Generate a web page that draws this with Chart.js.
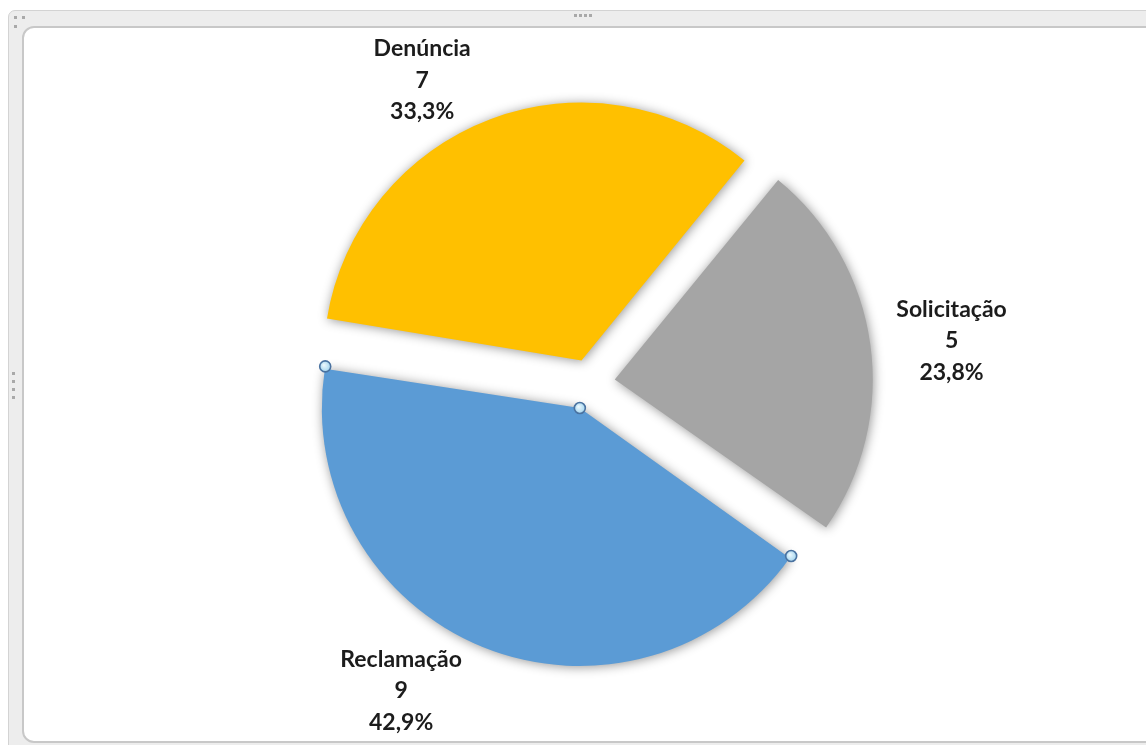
<!DOCTYPE html>
<html><head><meta charset="utf-8">
<script src="https://cdn.jsdelivr.net/npm/chart.js@4"></script>
<style>
html,body{margin:0;padding:0;background:#fff;width:1146px;height:745px;overflow:hidden;position:relative;}
#outer{position:absolute;left:8px;top:10px;width:1160px;height:760px;background:#ededed;border:1px solid #d3d3d3;border-radius:7px;box-sizing:border-box;}
#inner{position:absolute;left:22px;top:26px;width:1150px;height:717px;background:#fff;border:2px solid #c8c8c8;border-radius:12px;box-sizing:border-box;}
.dot{position:absolute;width:3px;height:3px;background:#a9a9a9;}
#c{position:absolute;left:0;top:0;}
</style></head>
<body>
<div id="outer"></div>
<div id="inner"></div>
<div class="dot" style="left:14px;top:16px"></div>
<div class="dot" style="left:22px;top:16px"></div>
<div class="dot" style="left:14px;top:25px"></div>
<div class="dot" style="left:574px;top:14px"></div>
<div class="dot" style="left:579px;top:14px"></div>
<div class="dot" style="left:584px;top:14px"></div>
<div class="dot" style="left:589px;top:14px"></div>
<div class="dot" style="left:12px;top:372px"></div>
<div class="dot" style="left:12px;top:380px"></div>
<div class="dot" style="left:12px;top:388px"></div>
<div class="dot" style="left:12px;top:396px"></div>
<canvas id="c" width="1146" height="745"></canvas>
<script>
// ---- data ----
const categories = ['Reclamação', 'Denúncia', 'Solicitação'];
const values = [9, 7, 5];
const colors = ['#5B9BD5', '#FFC000', '#A5A5A5'];

// ---- presentation ----
const explodePx = [27, 24, 25];          // slice explosion distance
const labelAngleShift = [9.4, -8.3, 1.2]; // degrees relative to slice mid-angle
const labelDist = [361, 346, 364];        // px from pie centre
const pieRadius = 258;

const total = values.reduce((a, b) => a + b, 0);
const pctText = v => (v / total * 100).toFixed(1).replace('.', ',') + '%';

function arcFix(arc) {
  const circ = arc.endAngle - arc.startAngle;
  return 1 - Math.sin(Math.min(Math.PI, circ));
}

const shadowAndRadius = {
  id: 'shadowAndRadius',
  beforeDatasetsDraw(chart) {
    const meta = chart.getDatasetMeta(0);
    meta.data.forEach(arc => {
      const off = (arc.options.offset || 0) / 4;
      arc.outerRadius = pieRadius - off * arcFix(arc);
    });
    const ctx = chart.ctx;
    ctx.save();
    ctx.shadowColor = 'rgba(0,0,0,0.42)';
    ctx.shadowBlur = 11;
    ctx.shadowOffsetX = 1;
    ctx.shadowOffsetY = 1;
  },
  afterDatasetsDraw(chart) {
    chart.ctx.restore();
  }
};

const labelsAndHandles = {
  id: 'labelsAndHandles',
  afterDraw(chart) {
    const ctx = chart.ctx;
    const meta = chart.getDatasetMeta(0);
    ctx.save();
    ctx.font = 'bold 23px Lato, "Open Sans", sans-serif';
    ctx.fillStyle = '#1c1c1c';
    ctx.textAlign = 'center';
    ctx.textBaseline = 'middle';
    meta.data.forEach((arc, i) => {
      const mid = (arc.startAngle + arc.endAngle) / 2 + labelAngleShift[i] * Math.PI / 180;
      const x = arc.x + Math.cos(mid) * labelDist[i];
      const y = arc.y + Math.sin(mid) * labelDist[i];
      const lines = [categories[i], String(values[i]), pctText(values[i])];
      lines.forEach((t, k) => ctx.fillText(t, x, y + (k - 1) * 31.5));
    });
    // selection handles on first slice
    const arc = meta.data[0];
    const off = (arc.options.offset || 0) / 4;
    const mid = (arc.startAngle + arc.endAngle) / 2;
    const ax = arc.x + Math.cos(mid) * off;
    const ay = arc.y + Math.sin(mid) * off;
    const r = arc.outerRadius + off * arcFix(arc);
    const pts = [
      [ax + Math.cos(arc.startAngle) * r, ay + Math.sin(arc.startAngle) * r],
      [ax, ay],
      [ax + Math.cos(arc.endAngle) * r, ay + Math.sin(arc.endAngle) * r]
    ];
    pts.forEach(([px, py]) => {
      const g = ctx.createRadialGradient(px - 1.5, py - 1.5, 0, px, py, 6);
      g.addColorStop(0, '#f0fafe');
      g.addColorStop(1, '#9fd3ee');
      ctx.beginPath();
      ctx.arc(px, py, 5.5, 0, Math.PI * 2);
      ctx.fillStyle = g;
      ctx.fill();
      ctx.lineWidth = 1.6;
      ctx.strokeStyle = '#4a72a0';
      ctx.stroke();
    });
    ctx.restore();
  }
};

new Chart(document.getElementById('c'), {
  type: 'pie',
  data: {
    labels: categories,
    datasets: [{
      data: values,
      backgroundColor: colors,
      borderWidth: 0,
      radius: pieRadius,
      offset: ctx => 4 * explodePx[ctx.dataIndex],
      hoverOffset: 0
    }]
  },
  options: {
    responsive: false,
    animation: false,
    events: [],
    rotation: 125,
    layout: { padding: { left: 34, top: 21, right: 0, bottom: 0 } },
    plugins: { legend: { display: false }, tooltip: { enabled: false } }
  },
  plugins: [shadowAndRadius, labelsAndHandles]
});
</script>
</body></html>
